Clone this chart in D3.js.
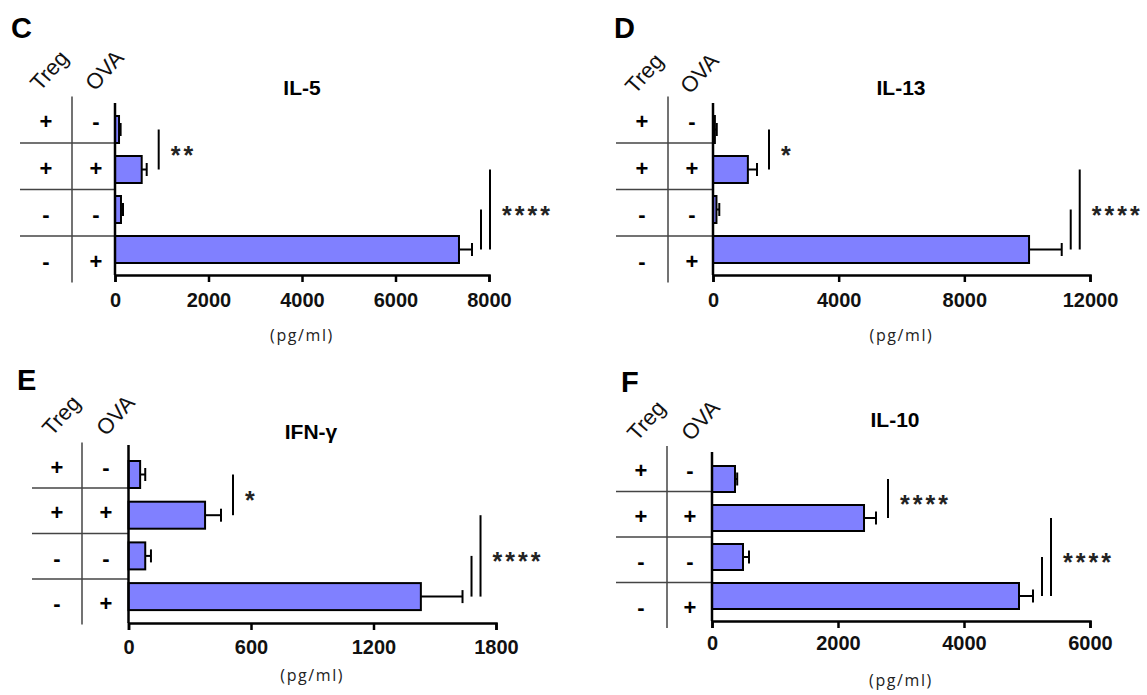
<!DOCTYPE html>
<html>
<head>
<meta charset="utf-8">
<script src="https://cdn.jsdelivr.net/npm/d3@7"></script>
<style>
  body { margin: 0; background: #fff; }
  svg { display: block; font-family: "Liberation Sans", Arial, sans-serif; }
  .axis path, .axis line { stroke: #000; stroke-width: 2.5px; }
  .axis text { font-size: 20px; font-weight: bold; fill: #111; font-family: "Liberation Sans", Arial, sans-serif; }
</style>
</head>
<body>
<div class="chart"></div>
<script>
// groups (rows, top to bottom)
const groups = ["g1", "g2", "g3", "g4"];
const tregSigns = ["+", "+", "-", "-"];
const ovaSigns = ["-", "+", "-", "+"];

// IL-5
const il5Mean = [86, 571, 128, 7358];
const il5Err = [34, 107, 43, 278];
const il5Ticks = [0, 2000, 4000, 6000, 8000];
// IL-13
const il13Mean = [60, 1110, 110, 10060];
const il13Err = [60, 290, 90, 1040];
const il13Ticks = [0, 4000, 8000, 12000];
// IFN-gamma
const ifnMean = [57, 375, 82, 1432];
const ifnErr = [25, 78, 28, 204];
const ifnTicks = [0, 600, 1200, 1800];
// IL-10
const il10Mean = [365, 2413, 492, 4873];
const il10Err = [35, 190, 95, 222];
const il10Ticks = [0, 2000, 4000, 6000];

// significance brackets: rows compared, label, level (upper / inner / outer)
const il5Sig = [[0, 1, "**", "upper"], [2, 3, "", "inner"], [1, 3, "****", "outer"]];
const il13Sig = [[0, 1, "*", "upper"], [2, 3, "", "inner"], [1, 3, "****", "outer"]];
const ifnSig = [[0, 1, "*", "upper"], [2, 3, "", "inner"], [1, 3, "****", "outer"]];
const il10Sig = [[0, 1, "****", "upper"], [2, 3, "", "inner"], [1, 3, "****", "outer"]];

const unitLabel = "(pg/ml)";

const svg_width = 1147, svg_height = 695;
const svg = d3.select(".chart").append("svg")
    .attr("width", svg_width).attr("height", svg_height);

const panels = [
  {letter: "C", lx: 11, ly: 38, title: "IL-5", titleX: 302, titleY: 94.5,
   mean: il5Mean, err: il5Err, ticks: il5Ticks, sig: il5Sig,
   x0: 115, x1: 489, axisTop: 103, axisY: 275, tickPad: 11, unitY: 341,
   barTop: 116, barStep: 40, barH: 27,
   tableLeft: 20, tableSep: 72, tregX: 46, ovaX: 96, tableTop: 96.5, tableBottom: 282.5,
   tregLab: [40, 92], ovaLab: [95, 92]},
  {letter: "D", lx: 614, ly: 38, title: "IL-13", titleX: 901, titleY: 94.5,
   mean: il13Mean, err: il13Err, ticks: il13Ticks, sig: il13Sig,
   x0: 713, x1: 1090, axisTop: 103, axisY: 275, tickPad: 11, unitY: 341,
   barTop: 116, barStep: 40, barH: 27,
   tableLeft: 616, tableSep: 668, tregX: 642, ovaX: 692, tableTop: 96.5, tableBottom: 282.5,
   tregLab: [635, 95], ovaLab: [690, 95]},
  {letter: "E", lx: 17, ly: 390, title: "IFN-\u03b3", titleX: 311, titleY: 439,
   mean: ifnMean, err: ifnErr, ticks: ifnTicks, sig: ifnSig,
   x0: 128.5, x1: 496, axisTop: 445, axisY: 623, tickPad: 10, unitY: 681,
   barTop: 461, barStep: 40.7, barH: 27,
   tableLeft: 32, tableSep: 82, tregX: 57, ovaX: 106, tableTop: 442.5, tableBottom: 624.5,
   tregLab: [52, 437], ovaLab: [106, 437]},
  {letter: "F", lx: 621, ly: 392, title: "IL-10", titleX: 895, titleY: 427,
   mean: il10Mean, err: il10Err, ticks: il10Ticks, sig: il10Sig,
   x0: 712, x1: 1090, axisTop: 452, axisY: 621, tickPad: 8, unitY: 686,
   barTop: 466, barStep: 39, barH: 26,
   tableLeft: 616, tableSep: 667, tregX: 641, ovaX: 690, tableTop: 446, tableBottom: 628,
   tregLab: [637, 442], ovaLab: [691, 442]}
];

function drawPanel(p) {
  const g = svg.append("g");
  const xScale = d3.scaleLinear([0, d3.max(p.ticks)], [p.x0, p.x1]);
  const pi = (p.barStep - p.barH) / p.barStep;
  const r0 = p.barTop - (p.barStep - p.barH) / 2;
  const yScale = d3.scaleBand().domain(groups)
      .range([r0, r0 + groups.length * p.barStep])
      .paddingInner(pi).paddingOuter(pi / 2);
  const tableScale = d3.scaleBand().domain(groups).range([p.tableTop, p.tableBottom]);
  const yc = i => yScale(groups[i]) + yScale.bandwidth() / 2;

  // panel letter + title
  g.append("text").attr("x", p.lx).attr("y", p.ly)
    .style("font-size", "29px").style("font-weight", "bold").text(p.letter);
  g.append("text").attr("x", p.titleX).attr("y", p.titleY)
    .attr("text-anchor", "middle")
    .style("font-size", "21px").style("font-weight", "bold").text(p.title);

  // table headers
  g.append("text").attr("transform", `translate(${p.tregLab[0]},${p.tregLab[1]}) rotate(-48)`)
    .style("font-size", "22px").style("fill", "#111").text("Treg");
  g.append("text").attr("transform", `translate(${p.ovaLab[0]},${p.ovaLab[1]}) rotate(-48)`)
    .style("font-size", "22px").style("fill", "#111").text("OVA");

  // table grid
  g.append("line").attr("x1", p.tableSep).attr("x2", p.tableSep)
    .attr("y1", p.tableTop).attr("y2", p.tableBottom)
    .attr("stroke", "#444").attr("stroke-width", 1.5);
  g.selectAll(".sep").data(groups.slice(1)).join("line").attr("class", "sep")
    .attr("x1", p.tableLeft).attr("x2", p.x0)
    .attr("y1", d => tableScale(d)).attr("y2", d => tableScale(d))
    .attr("stroke", "#444").attr("stroke-width", 1.5);

  const signs = g.append("g").style("font-size", "22px").style("font-weight", "bold")
    .attr("text-anchor", "middle").attr("dominant-baseline", "central");
  signs.selectAll(".treg").data(groups).join("text").attr("class", "treg")
    .attr("x", p.tregX).attr("y", d => tableScale(d) + tableScale.bandwidth() / 2 + 2)
    .text((d, i) => tregSigns[i]);
  signs.selectAll(".ova").data(groups).join("text").attr("class", "ova")
    .attr("x", p.ovaX).attr("y", d => tableScale(d) + tableScale.bandwidth() / 2 + 2)
    .text((d, i) => ovaSigns[i]);

  // bars
  g.selectAll(".bar").data(groups).join("rect").attr("class", "bar")
    .attr("x", p.x0).attr("y", d => yScale(d))
    .attr("width", (d, i) => xScale(p.mean[i]) - p.x0)
    .attr("height", yScale.bandwidth())
    .attr("fill", "#8080ff").attr("stroke", "#000").attr("stroke-width", 2);

  // error bars
  const eb = g.selectAll(".err").data(groups).join("g").attr("class", "err")
    .attr("stroke", "#000").attr("stroke-width", 2);
  eb.append("line")
    .attr("x1", (d, i) => xScale(p.mean[i])).attr("x2", (d, i) => xScale(p.mean[i] + p.err[i]))
    .attr("y1", (d, i) => yc(i)).attr("y2", (d, i) => yc(i));
  eb.append("line")
    .attr("x1", (d, i) => xScale(p.mean[i] + p.err[i])).attr("x2", (d, i) => xScale(p.mean[i] + p.err[i]))
    .attr("y1", (d, i) => yc(i) - 6.5).attr("y2", (d, i) => yc(i) + 6.5);

  // axes
  const xAxis = d3.axisBottom(xScale).tickValues(p.ticks).tickFormat(d3.format("d"))
      .tickSize(7).tickPadding(p.tickPad);
  g.append("g").attr("class", "x axis").attr("transform", `translate(0,${p.axisY})`).call(xAxis);
  g.append("line").attr("x1", p.x0).attr("x2", p.x0).attr("y1", p.axisTop).attr("y2", p.axisY)
    .attr("stroke", "#000").attr("stroke-width", 2.5);

  g.append("text").attr("x", (p.x0 + p.x1) / 2).attr("y", p.unitY)
    .attr("text-anchor", "middle")
    .style("font-family", "'Open Sans', 'Noto Sans', sans-serif")
    .style("font-size", "16px").style("letter-spacing", "1.6px").style("fill", "#222")
    .text(unitLabel);

  // significance brackets
  const errEnd = i => xScale(p.mean[i] + p.err[i]);
  const innerX = d3.max([2, 3], errEnd) + 9;
  p.sig.forEach(([a, b, label, level]) => {
    let lx;
    if (level === "upper") lx = d3.max([a, b], errEnd) + 12;
    else if (level === "inner") lx = innerX;
    else lx = innerX + 9;
    const ya = yc(a), yb = yc(b);
    g.append("line").attr("x1", lx).attr("x2", lx).attr("y1", ya).attr("y2", yb)
      .attr("stroke", "#000").attr("stroke-width", 2);
    if (label) {
      g.append("text").attr("x", lx + 12).attr("y", (ya + yb) / 2 + 14)
        .style("font-size", "25px").style("font-weight", "bold")
        .style("letter-spacing", "3px").style("fill", "#222")
        .text(label);
    }
  });
}

panels.forEach(drawPanel);
</script>
</body>
</html>
